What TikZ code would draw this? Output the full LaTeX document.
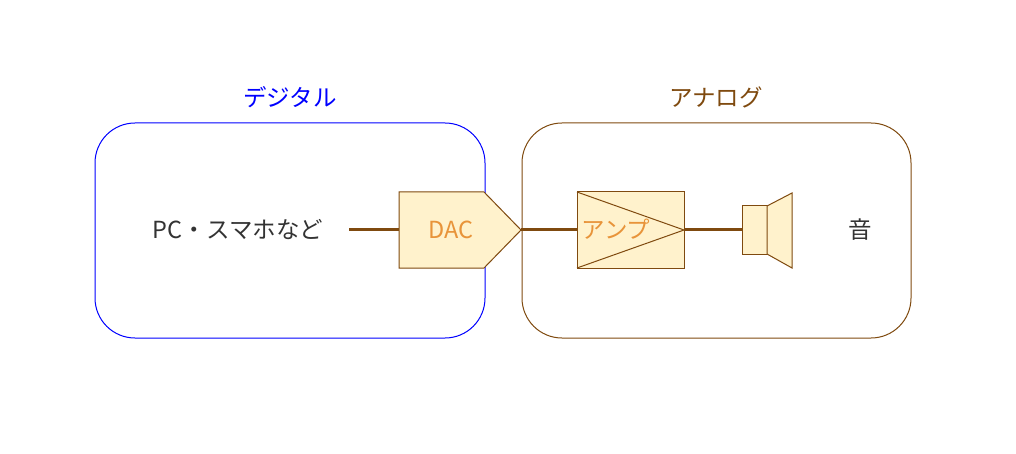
\documentclass[tikz,border=0pt]{standalone}
\usepackage{fontspec}
\setmainfont{Noto Sans CJK JP}
\definecolor{brn}{HTML}{7F4A0F}
\definecolor{fil}{HTML}{FFF2CC}
\definecolor{org}{HTML}{E8943A}
\definecolor{txt}{HTML}{333333}
\begin{document}
\begin{tikzpicture}[x=1pt,y=-1pt,
  lbl/.style={font=\fontsize{23.5}{26}\selectfont},
  comp/.style={draw=brn,fill=fil,line width=1pt},
  wire/.style={draw=brn,line width=3pt}]
\useasboundingbox (0,0) rectangle (1016,454);
\draw[blue,line width=1pt,rounded corners=40pt] (95,123) rectangle (485,338);
\draw[brn,line width=1pt,rounded corners=40pt] (522,123) rectangle (911,338);
\node[lbl,blue] (dl) at (290,97) {デジタル};
\node[lbl,brn] (al) at (716,97) {アナログ};
\node[lbl,txt] (pc) at (238,230) {PC・スマホなど};
\coordinate (pce) at (349,230);
\draw[comp] (399,192) -- (484,192) -- (521,230) -- (484,268) -- (399,268) -- cycle;
\node[lbl,org] (dac) at (451,230) {DAC};
\coordinate (dacin) at (399,230);
\coordinate (dacout) at (521,230);
\draw[comp] (577,192) rectangle (684,268);
\draw[brn,line width=1pt] (577,192) -- (684,230) -- (577,268);
\node[lbl,org] (amp) at (616,229) {アンプ};
\coordinate (ampin) at (577,230);
\coordinate (ampout) at (684,230);
\draw[comp] (742,206) rectangle (767,254);
\draw[comp] (767,206) -- (792,193) -- (792,268) -- (767,254) -- cycle;
\coordinate (spk) at (742,230);
\node[lbl,txt] (oto) at (860,230) {音};
\draw[wire] (pce) -- (dacin);
\draw[wire] (dacout) -- (ampin);
\draw[wire] (ampout) -- (spk);
\end{tikzpicture}
\end{document}
